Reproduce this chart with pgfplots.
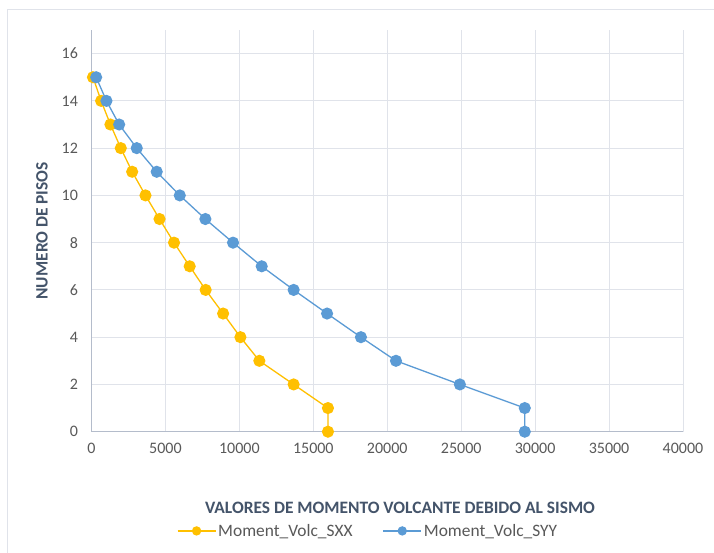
\documentclass[border=0pt]{standalone}
\usepackage{fontspec}
\setmainfont{Carlito}
\usepackage{pgfplots}
\pgfplotsset{compat=1.18}

\definecolor{sxx}{HTML}{FFC000}
\definecolor{syy}{HTML}{5B9BD5}
\definecolor{gridc}{HTML}{E0E3EA}
\definecolor{axisc}{HTML}{B4BCCB}
\definecolor{tickc}{HTML}{595959}
\definecolor{titlec}{HTML}{44546A}

\begin{document}
\begin{tikzpicture}
\useasboundingbox (0,0) rectangle (714pt,553pt);
\fill[white] (0,0) rectangle (714pt,553pt);
\draw[gridc, line width=1pt] (7.5pt,0) -- (7.5pt,543pt) -- (714pt,543pt);
\begin{axis}[
    at={(91.5pt,121.3pt)}, anchor=south west,
    scale only axis,
    width=591.5pt, height=401.7pt,
    xmin=0, xmax=40000, ymin=0, ymax=17,
    xtick={0,5000,...,40000},
    ytick={0,2,...,16},
    scaled x ticks=false,
    /pgf/number format/assume math mode=true,
    /pgf/number format/1000 sep={},
    axis x line=bottom, axis y line=left,
    axis line style={axisc, line width=1pt, -},
    major tick length=0pt,
    grid=major,
    major grid style={gridc, line width=1pt},
    ticklabel style={font=\fontsize{16}{18}\selectfont, text=tickc},
    xticklabel style={yshift=-8pt},
    yticklabel style={xshift=-10pt},
    xlabel={VALORES DE MOMENTO VOLCANTE DEBIDO AL SISMO},
    ylabel={NUMERO DE PISOS},
    label style={font=\fontsize{17.4}{19}\selectfont\bfseries, text=titlec},
    xlabel style={at={(axis description cs:0.5216,-0.19)}, anchor=center},
    ylabel style={at={(axis description cs:-0.0837,0.5)}, anchor=center},
    legend columns=2,
    legend style={at={(axis description cs:0.4675,-0.247)}, anchor=center,
        draw=none, fill=none, font=\fontsize{17.4}{19}\selectfont, text=tickc,
        /tikz/every even column/.append style={column sep=28pt}},
    legend image code/.code={
        \draw[#1, mark repeat=2, mark phase=2, mark size=4pt] plot coordinates {(0pt,0pt) (19pt,0pt) (38pt,0pt)};},
    every axis plot/.append style={line width=1.3pt, mark=*, mark size=5.4pt},
    clip=false,
]
\addplot[color=sxx, mark options={fill=sxx, draw=sxx}] coordinates {
 (15990,0) (15990,1) (13670,2) (11350,3) (10070,4) (8900,5) (7720,6) (6640,7)
 (5580,8) (4600,9) (3650,10) (2750,11) (1980,12) (1280,13) (650,14) (100,15)
};
\addlegendentry{Moment\_Volc\_SXX}
\addplot[color=syy, mark options={fill=syy, draw=syy}] coordinates {
 (29300,0) (29300,1) (24910,2) (20590,3) (18220,4) (15930,5) (13670,6) (11510,7)
 (9570,8) (7700,9) (5970,10) (4410,11) (3060,12) (1870,13) (1010,14) (315,15)
};
\addlegendentry{Moment\_Volc\_SYY}
\end{axis}
\end{tikzpicture}
\end{document}
